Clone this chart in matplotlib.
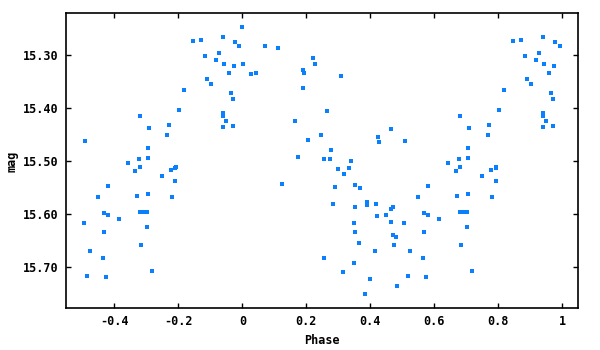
import matplotlib
matplotlib.use("Agg")
import matplotlib.pyplot as plt

plt.rcParams['font.family'] = ['DejaVu Sans Mono']
plt.rcParams['font.weight'] = 'bold'
plt.rcParams['axes.unicode_minus'] = False

# folded light curve, phase 0..1 (points with phase >= 0.5 are repeated at phase-1)
phase = [0.000, 0.072, 0.112, 0.222, 0.228, 0.002, 0.028, 0.044, 0.188, 0.194,
         0.309, 0.191, 0.266, 0.166, 0.247, 0.206, 0.278, 0.175, 0.425, 0.428,
         0.466, 0.509, 0.256, 0.275, 0.341, 0.300, 0.334, 0.319, 0.125, 0.291,
         0.353, 0.369, 0.581, 0.550, 0.284, 0.353, 0.388, 0.391, 0.419, 0.463,
         0.472, 0.422, 0.450, 0.569, 0.581, 0.615, 0.350, 0.463, 0.506, 0.353,
         0.472, 0.481, 0.569, 0.366, 0.475, 0.416, 0.525, 0.256, 0.563, 0.350,
         0.313, 0.516, 0.575, 0.400, 0.484, 0.384,
         0.847, 0.872, 0.938, 0.977, 0.991, 0.884, 0.928, 0.919, 0.944, 0.975,
         0.959, 0.888, 0.903, 0.819, 0.963, 0.972, 0.803, 0.681, 0.938, 0.938,
         0.950, 0.709, 0.772, 0.938, 0.972, 0.766, 0.706, 0.706, 0.678, 0.644,
         0.681, 0.666, 0.750, 0.778, 0.791, 0.794, 0.791, 0.672, 0.706, 0.781,
         0.681, 0.688, 0.703, 0.703, 0.684, 0.719]
mag = [15.246, 15.282, 15.287, 15.306, 15.316, 15.316, 15.336, 15.334, 15.329, 15.334,
       15.340, 15.362, 15.406, 15.424, 15.451, 15.460, 15.479, 15.492, 15.454, 15.464,
       15.439, 15.462, 15.496, 15.496, 15.501, 15.516, 15.514, 15.524, 15.544, 15.550,
       15.546, 15.552, 15.548, 15.569, 15.582, 15.587, 15.578, 15.584, 15.582, 15.591,
       15.587, 15.604, 15.602, 15.599, 15.602, 15.610, 15.617, 15.616, 15.617, 15.634,
       15.640, 15.644, 15.634, 15.655, 15.659, 15.670, 15.670, 15.683, 15.683, 15.694,
       15.711, 15.717, 15.719, 15.724, 15.736, 15.752,
       15.274, 15.271, 15.265, 15.276, 15.282, 15.301, 15.297, 15.310, 15.317, 15.321,
       15.334, 15.346, 15.355, 15.366, 15.372, 15.383, 15.404, 15.415, 15.409, 15.415,
       15.424, 15.437, 15.432, 15.436, 15.434, 15.452, 15.475, 15.494, 15.497, 15.505,
       15.512, 15.520, 15.529, 15.518, 15.514, 15.512, 15.539, 15.567, 15.563, 15.569,
       15.597, 15.597, 15.597, 15.625, 15.659, 15.709]

xticks = [-0.4, -0.2, 0, 0.2, 0.4, 0.6, 0.8, 1]
xlabels = ['-0.4', '-0.2', '0', '0.2', '0.4', '0.6', '0.8', '1']
yticks = [15.30, 15.40, 15.50, 15.60, 15.70]
ylabels = ['15.30', '15.40', '15.50', '15.60', '15.70']

x = list(phase)
y = list(mag)
for p, m in zip(phase, mag):
    if p >= 0.5:
        x.append(p - 1)
        y.append(m)

fig = plt.figure(figsize=(6, 3.5), dpi=100)
ax = fig.add_axes([0.1095, 0.119, 0.8545, 0.843])
ax.plot(x, y, 's', color='#0a80ff', markersize=2.9, markeredgewidth=0)

ax.set_xlim(-0.552, 1.05)
ax.set_ylim(15.779, 15.221)
ax.set_xticks(xticks)
ax.set_xticklabels(xlabels)
ax.set_yticks(yticks)
ax.set_yticklabels(ylabels)
ax.tick_params(direction='in', length=3.5, width=1, top=True, right=True,
               labelsize=8.5, pad=5, colors='black')
for s in ax.spines.values():
    s.set_linewidth(1.2)

ax.set_xlabel('Phase', fontsize=8.5, fontweight='bold', labelpad=4)
ax.set_ylabel('mag', fontsize=8.5, fontweight='bold', labelpad=3)

fig.savefig('out.png', dpi=100)
